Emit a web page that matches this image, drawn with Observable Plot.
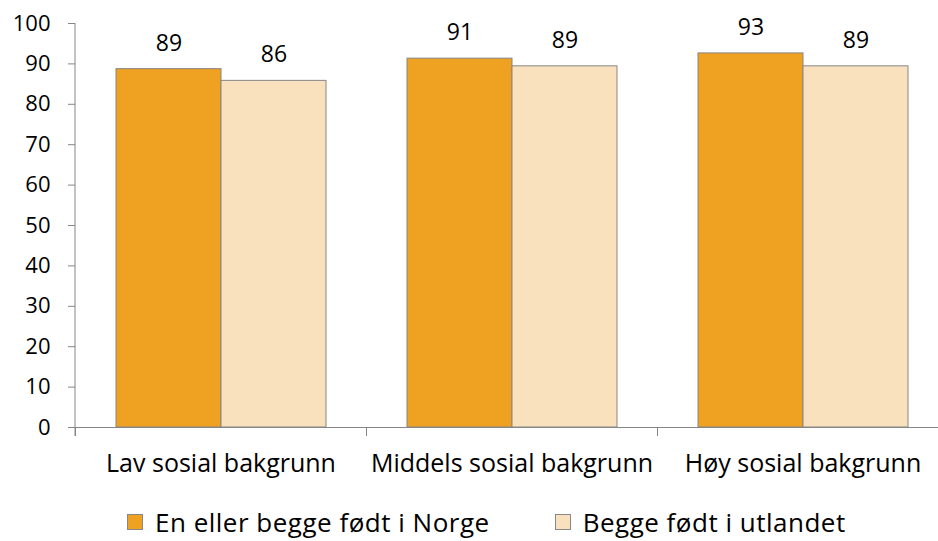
<!DOCTYPE html>
<html>
<head>
<meta charset="utf-8">
<script src="https://cdn.jsdelivr.net/npm/d3@7"></script>
<script src="https://cdn.jsdelivr.net/npm/@observablehq/plot@0.6"></script>
<style>
  html, body { margin: 0; padding: 0; background: #fff; }
  body { width: 938px; height: 541px; overflow: hidden; font-family: "Open Sans", sans-serif; }
  #legend { height: 51px; padding-top: 12px; display: flex; align-items: center; justify-content: flex-start; padding-left: 127px; box-sizing: border-box; font-size: 26px; letter-spacing: 0.5px; line-height: 30px; color: #000; white-space: nowrap; }
  .item { display: flex; align-items: center; margin-right: 65px; }
  .sw { width: 14px; height: 14px; border: 1px solid #888; margin-right: 12px; }
</style>
</head>
<body>
<div id="chart"></div>
<div id="legend"></div>
<script>
const categories = ["Lav sosial bakgrunn", "Middels sosial bakgrunn", "Høy sosial bakgrunn"];
const series = ["En eller begge født i Norge", "Begge født i utlandet"];
const norge = [88.7, 91.3, 92.6];
const utland = [85.8, 89.4, 89.4];
const yTicks = [0, 10, 20, 30, 40, 50, 60, 70, 80, 90, 100];
const colors = ["#EFA221", "#FAE1BE"];

const rows = [];
categories.forEach((c, i) => {
  rows.push({cat: c, ser: series[0], value: norge[i]});
  rows.push({cat: c, ser: series[1], value: utland[i]});
});

const W = 938, H = 490, mL = 75, mR = -10, mT = 23, mB = 63;
const step = (W - mL - mR) / categories.length;
const gray = "#868686";
const FONT = "'Open Sans', sans-serif";

const plot = Plot.plot({
  width: W, height: H,
  marginLeft: mL, marginRight: mR, marginTop: mT, marginBottom: mB,
  style: {fontFamily: FONT, fontSize: "22px", color: "#000", background: "#fff"},
  fx: {domain: categories, padding: 0, label: null},
  x: {domain: series, paddingInner: 0, paddingOuter: 0.375, axis: null},
  y: {domain: [0, 100], label: null},
  color: {domain: series, range: colors},
  marks: [
    Plot.axisY({ticks: yTicks, tickSize: 7, tickPadding: 18, stroke: gray, fill: "#000", fontSize: 22, label: null}),
    Plot.axisFx({anchor: "bottom", tickSize: 0, tickPadding: 27, fontSize: 25, fill: "#000", label: null}),
    Plot.axisFx({anchor: "bottom", tickSize: 9, dx: -step / 2, stroke: gray, tickFormat: () => "", label: null}),
    Plot.barY(rows, {fx: "cat", x: "ser", y: "value", fill: "ser", stroke: gray, strokeWidth: 1}),
    Plot.ruleY([0], {stroke: gray, strokeWidth: 1}),
    Plot.text(rows, {fx: "cat", x: "ser", y: "value", text: d => String(Math.round(d.value)), dy: -26, lineAnchor: "middle", fontSize: 23, fill: "#000"})
  ]
});

const ys = plot.scale("y");
d3.select(plot).append("line")
  .attr("x1", mL).attr("x2", mL)
  .attr("y1", ys.apply(100)).attr("y2", ys.apply(0) + 9)
  .attr("stroke", gray).attr("stroke-width", 1);

document.getElementById("chart").appendChild(plot);

const legend = document.getElementById("legend");
series.forEach((s, i) => {
  const item = document.createElement("div");
  item.className = "item";
  const sw = document.createElement("div");
  sw.className = "sw";
  sw.style.background = colors[i];
  const t = document.createElement("span");
  t.textContent = s;
  item.appendChild(sw);
  item.appendChild(t);
  legend.appendChild(item);
});
</script>
</body>
</html>
